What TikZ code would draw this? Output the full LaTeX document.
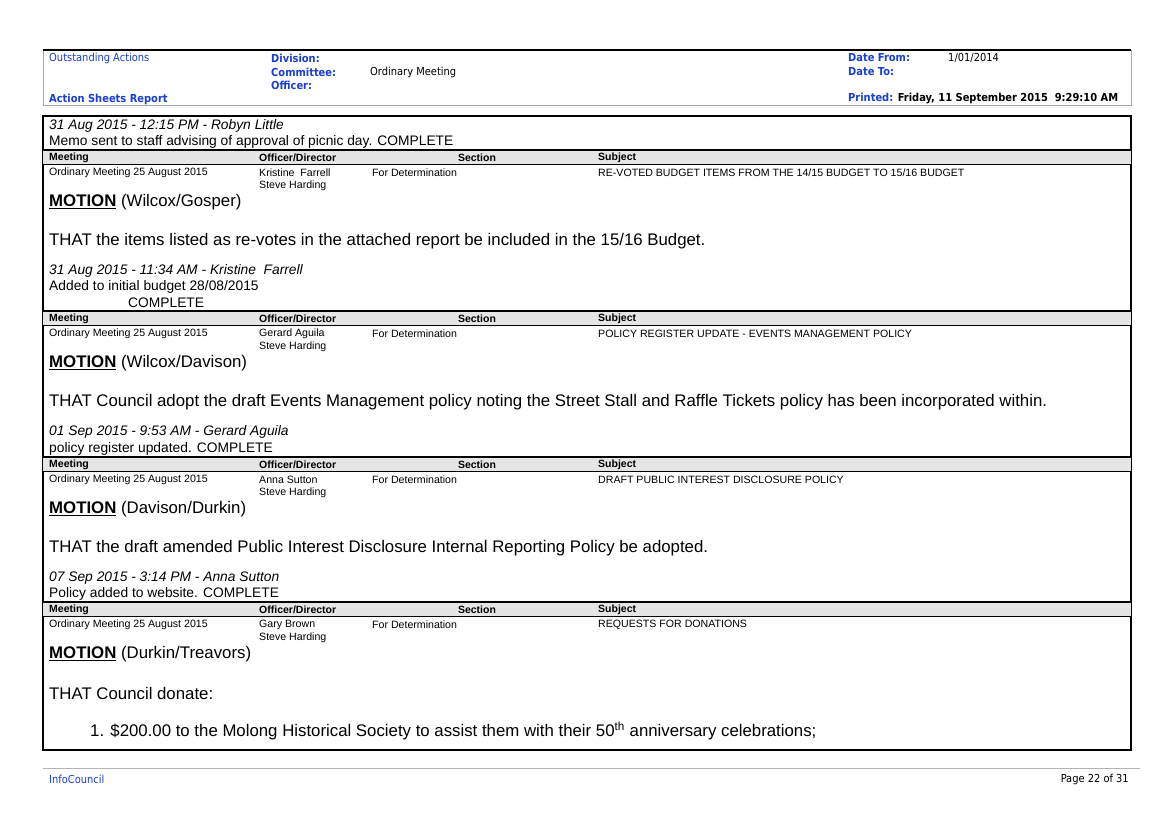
\documentclass[tikz,border=0pt]{standalone}
\usepackage{fontspec}
\setmainfont{Liberation Sans}
\newfontfamily\hdr{DejaVu Sans Condensed}
\definecolor{ib}{HTML}{1A3FD0}
\begin{document}
\begin{tikzpicture}[x=1pt,y=-1pt,
  sm/.style={anchor=west,inner sep=0,font=\fontsize{10.6}{11}\selectfont},
  hb/.style={anchor=west,inner sep=0,font=\fontsize{10.5}{11}\selectfont\bfseries},
  hd/.style={anchor=west,inner sep=0,font=\hdr\fontsize{11}{12}\selectfont},
  hdb/.style={anchor=west,inner sep=0,font=\hdr\fontsize{11}{12}\selectfont\bfseries},
  md/.style={anchor=west,inner sep=0,font=\fontsize{13.8}{14}\selectfont},
  it/.style={anchor=west,inner sep=0,font=\fontsize{13.8}{14}\selectfont\itshape},
  bg/.style={anchor=west,inner sep=0,font=\fontsize{16.8}{18}\selectfont}]
\useasboundingbox (0,0) rectangle (1174,830);
\fill[white] (0,0) rectangle (1174,830);
% header box
\draw[gray!70,line width=0.8] (43,50) rectangle (1131,105);
\draw[black,line width=1.5] (43,50) -- (1131,50);
\node[hd,text=ib] (oa) at (49,58) {Outstanding Actions};
\node[hdb,text=ib] (dv) at (271,58) {Division:};
\node[hdb,text=ib] (cm) at (271,72) {Committee:};
\node[hd] (om) at (370,72) {Ordinary Meeting};
\node[hdb,text=ib] (of) at (271,85) {Officer:};
\node[hdb,text=ib] (as) at (49,99) {Action Sheets Report};
\node[hdb,text=ib] (df) at (848,58) {Date From:};
\node[hd] (d1) at (948,58) {1/01/2014};
\node[hdb,text=ib] (dt) at (848,72) {Date To:};
\node[hdb] (pr) at (848,99) {\textcolor{ib}{Printed:} Friday, 11 September 2015\ \ 9:29:10 AM};
% main box
\draw[line width=1.6] (43,116) rectangle (1131,750);
% bars
\foreach \t in {150,311,457,602}{
  \fill[gray!20] (43,\t) rectangle (1131,\t+14);
  \draw[line width=1.2] (43,\t) -- (1131,\t);
  \draw[line width=0.8] (43,\t+14) -- (1131,\t+14);
  \node[hb] at (49,\t+8) {Meeting};
  \node[hb] at (259,\t+8) {Officer/Director};
  \node[hb,anchor=center] at (477,\t+8) {Section};
  \node[hb] at (598,\t+8) {Subject};
}
% block 1
\node[it] (n1) at (49,126) {31 Aug 2015 - 12:15 PM - Robyn Little};
\node[md] (n2) at (49,142) {Memo sent to staff advising of approval of picnic day. COMPLETE};
\node[sm] (r1a) at (49,173) {Ordinary Meeting 25 August 2015};
\node[sm] (r1b) at (259,173) {Kristine\ \ Farrell};
\node[sm] (r1c) at (259,186) {Steve Harding};
\node[sm] (r1d) at (372,173) {For Determination};
\node[sm] (r1e) at (598,173) {RE-VOTED BUDGET ITEMS FROM THE 14/15 BUDGET TO 15/16 BUDGET};
\node[bg] (m1) at (49,202) {\textbf{\underline{MOTION}} (Wilcox/Gosper)};
\node[bg] (t1) at (49,241) {THAT the items listed as re-votes in the attached report be included in the 15/16 Budget.};
\node[it] (n3) at (49,271) {31 Aug 2015 - 11:34 AM - Kristine\ \ Farrell};
\node[md] (n4) at (49,287) {Added to initial budget 28/08/2015};
\node[md] (n5) at (128,303) {COMPLETE};
% block 2
\node[sm] (r2a) at (49,334) {Ordinary Meeting 25 August 2015};
\node[sm] (r2b) at (259,334) {Gerard Aguila};
\node[sm] (r2c) at (259,347) {Steve Harding};
\node[sm] (r2d) at (372,334) {For Determination};
\node[sm] (r2e) at (598,334) {POLICY REGISTER UPDATE - EVENTS MANAGEMENT POLICY};
\node[bg] (m2) at (49,363) {\textbf{\underline{MOTION}} (Wilcox/Davison)};
\node[bg] (t2) at (49,402) {THAT Council adopt the draft Events Management policy noting the Street Stall and Raffle Tickets policy has been incorporated within.};
\node[it] (n6) at (49,432) {01 Sep 2015 - 9:53 AM - Gerard Aguila};
\node[md] (n7) at (49,449) {policy register updated. COMPLETE};
% block 3
\node[sm] (r3a) at (49,480) {Ordinary Meeting 25 August 2015};
\node[sm] (r3b) at (259,480) {Anna Sutton};
\node[sm] (r3c) at (259,493) {Steve Harding};
\node[sm] (r3d) at (372,480) {For Determination};
\node[sm] (r3e) at (598,480) {DRAFT PUBLIC INTEREST DISCLOSURE POLICY};
\node[bg] (m3) at (49,509) {\textbf{\underline{MOTION}} (Davison/Durkin)};
\node[bg] (t3) at (49,548) {THAT the draft amended Public Interest Disclosure Internal Reporting Policy be adopted.};
\node[it] (n8) at (49,578) {07 Sep 2015 - 3:14 PM - Anna Sutton};
\node[md] (n9) at (49,594) {Policy added to website. COMPLETE};
% block 4
\node[sm] (r4a) at (49,625) {Ordinary Meeting 25 August 2015};
\node[sm] (r4b) at (259,625) {Gary Brown};
\node[sm] (r4c) at (259,638) {Steve Harding};
\node[sm] (r4d) at (372,625) {For Determination};
\node[sm] (r4e) at (598,625) {REQUESTS FOR DONATIONS};
\node[bg] (m4) at (49,654) {\textbf{\underline{MOTION}} (Durkin/Treavors)};
\node[bg] (t4) at (49,693) {THAT Council donate:};
\node[bg] (t5) at (90,731) {1. \$200.00 to the Molong Historical Society to assist them with their 50\textsuperscript{th} anniversary celebrations;};
% footer
\draw[gray!60,line width=0.8] (43,768) -- (1140,768);
\node[hd,text=ib] (ic) at (49,779) {InfoCouncil};
\node[hd,anchor=east] (pg) at (1129,779) {Page 22 of 31};
\end{tikzpicture}
\end{document}
